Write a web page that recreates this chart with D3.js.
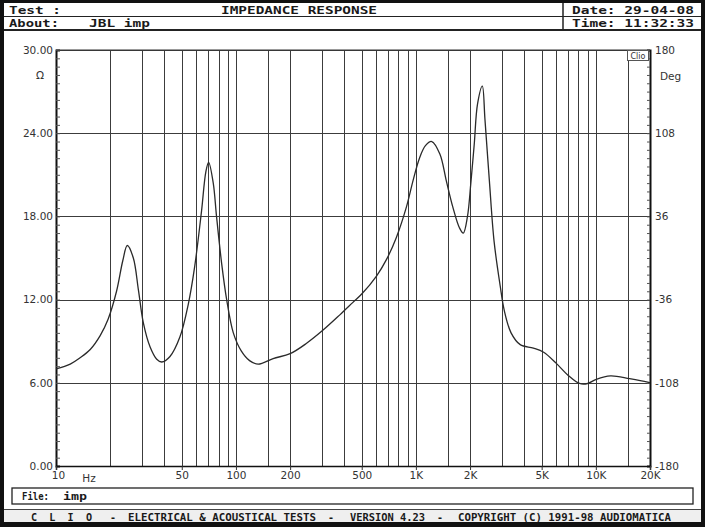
<!DOCTYPE html>
<html>
<head>
<meta charset="utf-8">
<script src="https://cdn.jsdelivr.net/npm/d3@7"></script>
<style>
  body { margin: 0; background: #fff; }
  .mono { font-family: "DejaVu Sans Mono", "Liberation Mono", monospace; font-weight: bold; fill: #1a1a1a; }
  .lbl { font-family: "DejaVu Sans", Verdana, sans-serif; font-size: 10.5px; fill: #333; }
</style>
</head>
<body>
<svg id="chart"></svg>
<script>
// impedance readings (Hz, ohm)
freqs = [10, 12, 13.6, 15.5, 17.6, 19.5, 21.7, 23.5, 24.9, 26.9, 28.7, 30.6, 33.3, 36.3, 38.7, 43, 48.8,
    54.4, 59, 64.4, 68, 70.5, 74.8, 78, 83.3, 88.8, 96.7, 107, 119, 133, 161, 200, 247, 305, 378, 447,
    500, 604, 687, 780, 887, 965, 1047, 1130, 1225, 1359, 1474, 1602, 1743, 1834, 1935, 2020, 2110,
    2200, 2340, 2420, 2560, 2720, 2940, 3100, 3380, 3800, 4500, 5130, 6030, 7000, 8120, 9000, 10060,
    12070, 15400, 19400, 20000];
ohms = [7.0, 7.35, 7.8, 8.4, 9.4, 10.6, 12.6, 14.8, 15.9, 15.0, 12.7, 10.3, 8.6, 7.7, 7.5, 7.9, 9.3,
    11.7, 14.4, 18.4, 21.2, 21.9, 20.4, 18.0, 14.6, 12.0, 9.6, 8.3, 7.6, 7.35, 7.75, 8.1, 8.85, 9.8, 10.9, 11.8,
    12.4, 13.7, 14.9, 16.5, 18.7, 20.6, 22.2, 23.1, 23.4, 22.5, 20.6, 18.7, 17.2, 16.8, 18.0, 20.4, 23.2,
    26.1, 27.4, 25.0, 20.6, 16.2, 13.0, 11.2, 9.6, 8.75, 8.5, 8.2, 7.4, 6.55, 5.95, 5.95, 6.25,
    6.5, 6.3, 6.05, 6.0];

gridFreqs = [20, 30, 40, 50, 60, 70, 80, 90, 100, 150, 200, 300, 400, 500, 600, 700, 800, 900, 1000,
    1500, 2000, 3000, 4000, 5000, 6000, 7000, 8000, 9000, 10000, 15000, 20000];
freqTicks = [10, 50, 100, 200, 500, 1000, 2000, 5000, 10000, 20000];
ohmTicks = [0, 6, 12, 18, 24, 30];
degTicks = [-180, -108, -36, 36, 108, 180];

const svg = d3.select('#chart').attr('width', 705).attr('height', 527);

/* frame */
svg.append('rect').attr('width', 705).attr('height', 527).attr('fill', '#111');
svg.append('rect').attr('x', 4).attr('y', 3).attr('width', 697).attr('height', 519).attr('fill', '#fff');

/* header */
const hdr = svg.append('g');
hdr.append('line').attr('x1', 4).attr('x2', 701).attr('y1', 16.5).attr('y2', 16.5).attr('stroke', '#222');
hdr.append('line').attr('x1', 4).attr('x2', 701).attr('y1', 30).attr('y2', 30).attr('stroke', '#222').attr('stroke-width', 2);
hdr.append('line').attr('x1', 563).attr('x2', 563).attr('y1', 3).attr('y2', 30).attr('stroke', '#222').attr('stroke-width', 1.5);

function monoText(g, txt, x, y, len, size) {
    g.append('text').attr('class', 'mono')
        .attr('x', x).attr('y', y)
        .attr('font-size', size)
        .attr('textLength', len).attr('lengthAdjust', 'spacingAndGlyphs')
        .style('white-space', 'pre')
        .text(txt);
}
monoText(hdr, 'Test :', 9, 13.5, 52, 11);
monoText(hdr, 'IMPEDANCE RESPONSE', 221, 13.5, 156, 11);
monoText(hdr, 'About:', 9, 27, 50, 11);
monoText(hdr, 'JBL imp', 89, 27, 61, 11);
monoText(hdr, 'Date: 29-04-08', 572, 13.5, 122, 11);
monoText(hdr, 'Time: 11:32:33', 572, 27, 122, 11);

/* plot */
const pLeft = 56, pRight = 650, pTop = 50, pBottom = 466;

const x = d3.scaleLog().domain([10, 20000]).range([pLeft, pRight]);
const y = d3.scaleLinear().domain([0, 30]).range([pBottom, pTop]);
const yDeg = d3.scaleLinear().domain([-180, 180]).range([pBottom, pTop]);

const grid = svg.append('g').attr('stroke', '#3c3c3c').attr('stroke-width', 1);
grid.selectAll('.vg')
    .data(gridFreqs)
    .enter().append('line')
    .attr('x1', d => Math.round(x(d)) + 0.5).attr('x2', d => Math.round(x(d)) + 0.5)
    .attr('y1', pTop).attr('y2', pBottom);
grid.selectAll('.hg')
    .data(ohmTicks.slice(1))
    .enter().append('line')
    .attr('x1', pLeft).attr('x2', pRight)
    .attr('y1', d => Math.round(y(d)) + 0.5).attr('y2', d => Math.round(y(d)) + 0.5);

/* minor ticks on both side axes */
const minorOhm = d3.range(0, 30.001, 0.6);
svg.append('g')
    .attr('transform', 'translate(' + pLeft + ',0)')
    .call(d3.axisLeft(y).tickValues(minorOhm).tickSize(-4).tickFormat(''))
    .call(g => g.select('.domain').attr('stroke-width', 2).attr('stroke', '#111'))
    .call(g => g.selectAll('.tick line').attr('stroke', '#555'));
svg.append('g')
    .attr('transform', 'translate(' + pRight + ',0)')
    .call(d3.axisRight(yDeg).tickValues(d3.range(-180, 180.001, 7.2)).tickSize(-3).tickFormat(''))
    .call(g => g.select('.domain').attr('stroke-width', 2).attr('stroke', '#111'))
    .call(g => g.selectAll('.tick line').attr('stroke', '#555'));

/* labels */
svg.append('g')
    .attr('transform', 'translate(' + pLeft + ',0)')
    .call(d3.axisLeft(y).tickValues(ohmTicks).tickSize(0).tickPadding(3).tickFormat(d3.format('.2f')))
    .call(g => g.select('.domain').remove())
    .call(g => g.selectAll('text').attr('class', 'lbl').attr('font-size', null).attr('font-family', null).attr('fill', null));
svg.append('g')
    .attr('transform', 'translate(' + pRight + ',0)')
    .call(d3.axisRight(yDeg).tickValues(degTicks).tickSize(0).tickPadding(5))
    .call(g => g.select('.domain').remove())
    .call(g => g.selectAll('text').attr('class', 'lbl').attr('font-size', null).attr('font-family', null).attr('fill', null)
        .text(d => d < 0 ? '-' + Math.abs(d) : d));

const fmtFreq = d => d >= 1000 ? (d / 1000) + 'K' : String(d);
svg.append('g')
    .attr('transform', 'translate(0,' + pBottom + ')')
    .call(d3.axisBottom(x).tickValues(freqTicks).tickSize(4).tickPadding(2).tickFormat(fmtFreq))
    .call(g => g.select('.domain').attr('stroke', '#111').attr('stroke-width', 1.5))
    .call(g => g.selectAll('.tick line').attr('stroke', '#333'))
    .call(g => g.selectAll('text').attr('class', 'lbl').attr('font-size', null).attr('font-family', null).attr('fill', null)
        .attr('dx', d => d === 10 ? 2 : 0));

svg.append('line').attr('x1', pLeft).attr('x2', pRight).attr('y1', pTop).attr('y2', pTop).attr('stroke', '#333');

svg.append('text').attr('class', 'lbl').attr('x', 89).attr('y', 482).attr('text-anchor', 'middle').text('Hz');
svg.append('text').attr('class', 'lbl').attr('x', 40).attr('y', 79).attr('text-anchor', 'middle').text('Ω');
svg.append('text').attr('class', 'lbl').attr('x', 660).attr('y', 80).text('Deg');

/* Clio badge */
svg.append('rect').attr('x', 627.5).attr('y', 50.5).attr('width', 21).attr('height', 10)
    .attr('fill', '#fff').attr('stroke', '#555');
svg.append('text').attr('class', 'lbl').attr('x', 638).attr('y', 59).attr('text-anchor', 'middle')
    .style('font-size', '8px').text('Clio');

/* impedance curve */
const pts = freqs.map((f, i) => ({f: f, z: ohms[i]}));
const line = d3.line()
    .x(d => x(d.f))
    .y(d => y(d.z))
    .curve(d3.curveCatmullRom.alpha(0.5));
svg.append('path')
    .datum(pts)
    .attr('fill', 'none')
    .attr('stroke', '#2a2a2a')
    .attr('stroke-width', 1.3)
    .attr('d', line);

/* file box and footer */
svg.append('rect').attr('x', 12).attr('y', 488).attr('width', 681).attr('height', 16)
    .attr('fill', '#fff').attr('stroke', '#222').attr('stroke-width', 1.3);
monoText(svg, 'File:', 22, 500, 27, 11);
monoText(svg, 'imp', 63, 500, 24, 11);

svg.append('rect').attr('x', 4).attr('y', 509.5).attr('width', 697).attr('height', 12.5).attr('fill', '#efefef');
svg.append('line').attr('x1', 4).attr('x2', 701).attr('y1', 509.5).attr('y2', 509.5).attr('stroke', '#444');
monoText(svg, 'C  L  I  O', 31, 520.5, 61, 10);
monoText(svg, '-', 110, 520.5, 6, 10);
monoText(svg, 'ELECTRICAL & ACOUSTICAL TESTS', 128, 520.5, 188, 10);
monoText(svg, '-', 328, 520.5, 6, 10);
monoText(svg, 'VERSION 4.23', 350, 520.5, 75, 10);
monoText(svg, '-', 437, 520.5, 6, 10);
monoText(svg, 'COPYRIGHT (C) 1991-98 AUDIOMATICA', 458, 520.5, 213, 10);
</script>
</body>
</html>
